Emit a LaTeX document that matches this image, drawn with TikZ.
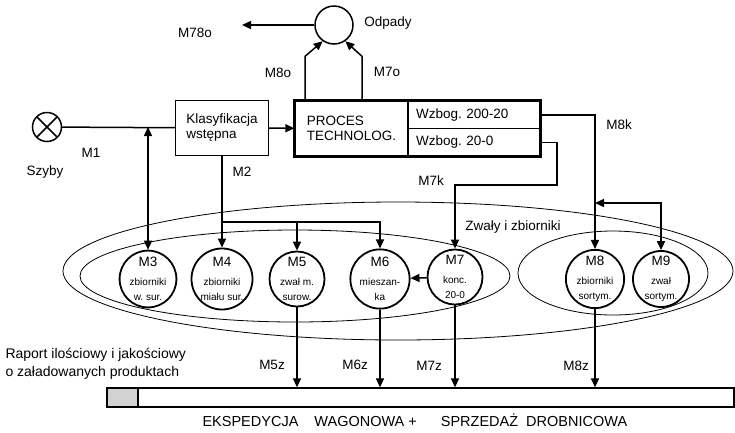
\documentclass[tikz,border=0pt]{standalone}
\usepackage{fontspec}
\setmainfont{Liberation Sans}
\usetikzlibrary{arrows.meta}
\newcommand{\sm}{\fontsize{10}{11.5}\selectfont}
\frenchspacing

\begin{document}
\begin{tikzpicture}[x=1pt,y=-1pt,>={Triangle[length=9pt,width=8pt]},
  every node/.style={font=\fontsize{13.5}{15}\selectfont},
  conn/.style={line width=1.5pt},
  tank/.style={circle,draw,line width=1.8pt,fill=white,minimum size=55pt,inner sep=0pt,align=center},
  boxn/.style={rectangle,draw,line width=1.3pt,align=left},
  zone/.style={line width=0.8pt}]
\useasboundingbox (0,0) rectangle (735,432);

\draw[zone] (398,271) ellipse [x radius=335,y radius=69];
\draw[zone] (295,276) ellipse [x radius=215,y radius=46];
\draw[zone] (613,273) ellipse [x radius=95,y radius=42];
\node (zwaly) at (513,227) {Zwały i zbiorniki};

\node[circle,draw,line width=1.5pt,minimum size=29pt,inner sep=0pt,
  path picture={\draw[line width=1.5pt] (path picture bounding box.north west) -- (path picture bounding box.south east)
    (path picture bounding box.north east) -- (path picture bounding box.south west);}] (szyby) at (47,127) {};
\node[circle,draw,line width=1.5pt,minimum size=38pt,inner sep=0pt] (odp) at (334,25) {};

\node[boxn,minimum width=93pt,minimum height=55pt] (klas) at (222,128) {Klasyfikacja\\wstępna};
\node[boxn,draw=none,minimum width=113pt,minimum height=55pt] (tech) at (351.5,128.5) {PROCES\\TECHNOLOG.};
\node[boxn,minimum height=27.5pt,text width=116pt,inner xsep=8pt] (w1) at (474,114.75) {Wzbog. 200-20};
\node[boxn,minimum height=27.5pt,text width=116pt,inner xsep=8pt] (w2) at (474,142.25) {Wzbog. 20-0};
\draw[line width=3pt] (tech.north west) rectangle (w2.south east);

\node[tank] (M3) at (148,279) {M3\\[4pt]\sm zbiorniki\\\sm w. sur.};
\node[tank] (M4) at (222,279) {M4\\[4pt]\sm zbiorniki\\\sm miału sur.};
\node[tank] (M5) at (297,279) {M5\\[4pt]\sm zwał m.\\\sm surow.};
\node[tank] (M6) at (380,279) {M6\\[4pt]\sm mieszan-\\\sm ka};
\node[tank] (M7) at (455,277) {M7\\[4pt]\sm konc.\\\sm 20-0};
\node[tank] (M8) at (595,279) {M8\\[4pt]\sm zbiorniki\\\sm sortym.};
\node[tank] (M9) at (661,279) {M9\\[4pt]\sm zwał\\\sm sortym.};

\node[draw,line width=1.3pt,minimum width=627pt,minimum height=19pt,inner sep=0pt] (bar) at (420.5,397.5) {};
\node[draw,line width=1.3pt,fill=gray!35,minimum width=31pt,minimum height=19pt,inner sep=0pt] (rep) at (122.5,397.5) {};

\coordinate (m2j) at (222,222);
\coordinate (m78) at (242,25);
\coordinate (m7a) at (557,185);
\coordinate (m9a) at (595,203);

\draw[conn] (szyby) -- (klas);
\draw[conn,<->] (M3 |- szyby) -- (M3);
\draw[conn,->] (klas) -- (tech);
\draw[conn,->] (klas) -- (M4);
\draw[conn,->] (m2j) -| (M5);
\draw[conn,->] (m2j) -| (M6);
\draw[conn,->] ([xshift=-46.5pt]tech.north) -- ++(0,-44) -- (odp.235);
\draw[conn,->] ([xshift=10.5pt]tech.north) -- ++(0,-44) -- (odp.305);
\draw[conn,->] (odp) -- (m78);
\draw[conn,->] (w1) -| (M8);
\draw[conn,->] (w2) -| (m7a) -| (M7);
\draw[conn,<->] (m9a) -| (M9);
\draw[conn,->] (M7) -- (M6);
\draw[conn,->] (M5) -- (M5 |- bar.north);
\draw[conn,->] (M6) -- (M6 |- bar.north);
\draw[conn,->] (M7) -- (M7 |- bar.north);
\draw[conn,->] (M8) -- (M8 |- bar.north);

\node (lszyby) at (45,172) {Szyby};
\node (lodp) at (388,23) {Odpady};
\node (lm1) at (91,153) {M1};
\node (lm2) at (242,172) {M2};
\node (lm8o) at (278,73) {M8o};
\node (lm7o) at (387,72) {M7o};
\node (lm78o) at (195,33) {M78o};
\node (lm8k) at (619,125) {M8k};
\node (lm7k) at (431,181) {M7k};
\node (lm5z) at (272,365) {M5z};
\node (lm6z) at (355,365) {M6z};
\node (lm7z) at (429,366) {M7z};
\node (lm8z) at (576,366) {M8z};
\node[anchor=west,align=left,font=\fontsize{14}{18}\selectfont] (raport) at (2,364) {Raport ilościowy i jakościowy\\o załadowanych produktach};
\node[anchor=west,font=\fontsize{14.5}{16}\selectfont] (eksp) at (199,420) {EKSPEDYCJA\hspace{16pt}WAGONOWA +\hspace{24pt}SPRZEDAŻ\hspace{8pt}DROBNICOWA};
\end{tikzpicture}
\end{document}
